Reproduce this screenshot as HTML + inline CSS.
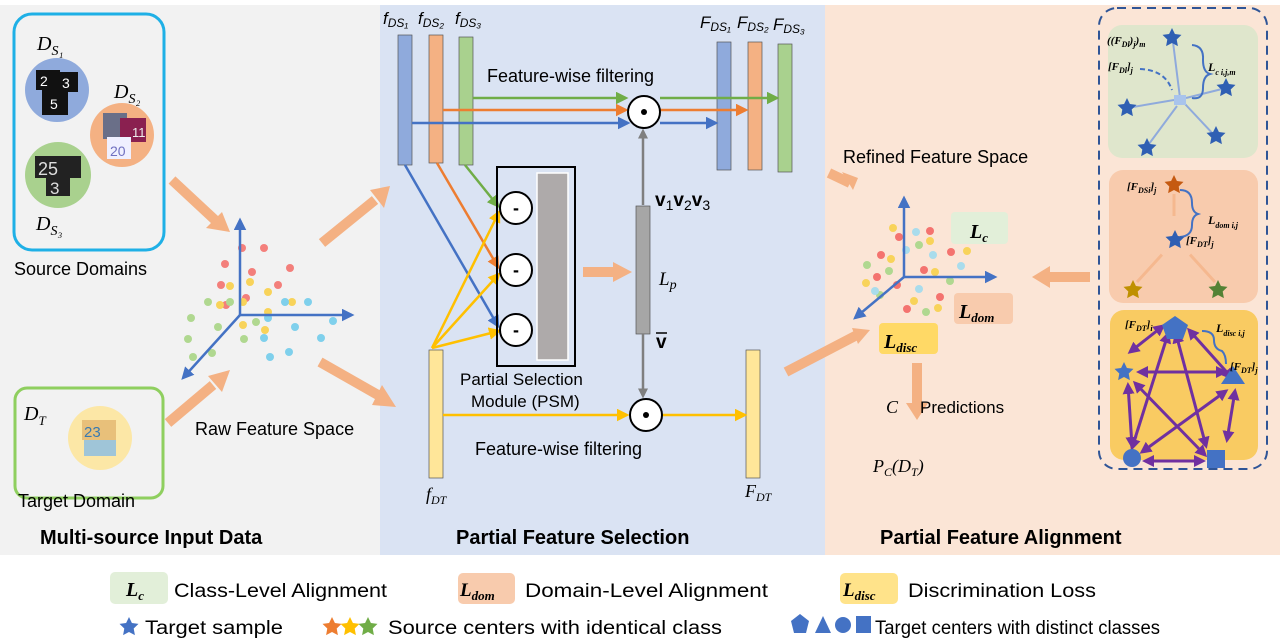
<!DOCTYPE html>
<html><head><meta charset="utf-8"><style>
html,body{margin:0;padding:0;background:#fff;}
svg{display:block;}
text{font-family:"Liberation Sans",sans-serif;}
.m{font-family:"Liberation Serif",serif;font-style:italic;}
.b{font-weight:bold;}
.n{font-family:"Liberation Sans Narrow","Liberation Sans",sans-serif;}
</style></head><body>
<svg width="1280" height="642" viewBox="0 0 1280 642" xmlns="http://www.w3.org/2000/svg">
<defs>
<marker id="ab" markerWidth="6" markerHeight="6" refX="5" refY="3" orient="auto" markerUnits="strokeWidth"><path d="M0,0L6,3L0,6z" fill="context-stroke"/></marker>
<marker id="abl" markerWidth="5" markerHeight="5" refX="4" refY="2.5" orient="auto"><path d="M0,0L5,2.5L0,5z" fill="#4472c4"/></marker>
<marker id="ag" markerWidth="5" markerHeight="5" refX="4" refY="2.5" orient="auto"><path d="M0,0L5,2.5L0,5z" fill="#70ad47"/></marker>
<marker id="ao" markerWidth="5" markerHeight="5" refX="4" refY="2.5" orient="auto"><path d="M0,0L5,2.5L0,5z" fill="#ed7d31"/></marker>
<marker id="ay" markerWidth="5" markerHeight="5" refX="4" refY="2.5" orient="auto"><path d="M0,0L5,2.5L0,5z" fill="#ffc000"/></marker>
<marker id="agr" markerWidth="4" markerHeight="4" refX="3" refY="2" orient="auto"><path d="M0,0L4,2L0,4z" fill="#7f7f7f"/></marker>
<marker id="ap" markerWidth="4" markerHeight="4" refX="3" refY="2" orient="auto"><path d="M0,0L4,2L0,4z" fill="#7030a0"/></marker>
<marker id="apr" markerWidth="4" markerHeight="4" refX="1" refY="2" orient="auto"><path d="M4,0L0,2L4,4z" fill="#7030a0"/></marker>
<marker id="alb" markerWidth="4" markerHeight="4" refX="3" refY="2" orient="auto"><path d="M0,0L4,2L0,4z" fill="#8faadc"/></marker>
<marker id="alo" markerWidth="4" markerHeight="4" refX="3" refY="2" orient="auto"><path d="M0,0L4,2L0,4z" fill="#f8cbad"/></marker>
<g id="star"><path d="M0,-10L2.9,-4L9.5,-3.1L4.7,1.5L5.9,8.1L0,5L-5.9,8.1L-4.7,1.5L-9.5,-3.1L-2.9,-4Z"/></g>
</defs>

<!-- panels -->
<rect x="0" y="5" width="380" height="550" fill="#f2f2f2"/>
<rect x="380" y="5" width="445" height="550" fill="#dae3f3"/>
<rect x="825" y="5" width="455" height="550" fill="#fbe5d6"/>

<!-- LEFT -->
<rect x="14" y="14" width="150" height="236" rx="18" fill="none" stroke="#1fb0e6" stroke-width="3"/>
<text x="37" y="50" class="m" font-size="20">D<tspan font-size="14" dy="5">S₁</tspan></text>
<text x="114" y="98" class="m" font-size="20">D<tspan font-size="14" dy="5">S₂</tspan></text>
<text x="36" y="230" class="m" font-size="20">D<tspan font-size="14" dy="5">S₃</tspan></text>
<circle cx="57" cy="90" r="32" fill="#8faadc"/>
<rect x="36" y="70" width="24" height="20" fill="#111"/><rect x="58" y="72" width="20" height="20" fill="#111"/><rect x="42" y="88" width="26" height="27" fill="#111"/>
<text x="40" y="86" fill="#fff" font-size="14">2</text><text x="62" y="88" fill="#fff" font-size="14">3</text><text x="50" y="109" fill="#fff" font-size="14">5</text>
<circle cx="122" cy="135" r="32" fill="#f4b183"/>
<rect x="103" y="113" width="24" height="26" fill="#6a6f88"/><rect x="120" y="118" width="26" height="24" fill="#8a2050"/><rect x="107" y="137" width="24" height="22" fill="#f0f0ff"/>
<text x="132" y="137" fill="#eee" font-size="13">11</text><text x="110" y="156" fill="#7070c0" font-size="14">20</text>
<circle cx="58" cy="175" r="33" fill="#a9d18e"/>
<rect x="35" y="156" width="46" height="22" fill="#222"/><rect x="46" y="176" width="24" height="20" fill="#222"/>
<text x="38" y="175" fill="#ddd" font-size="18">25</text><text x="50" y="194" fill="#ddd" font-size="17">3</text>
<text x="14" y="275" font-size="18">Source Domains</text>

<rect x="15" y="388" width="148" height="110" rx="12" fill="none" stroke="#8fcf5f" stroke-width="3"/>
<text x="24" y="420" class="m" font-size="20">D<tspan font-size="13" dy="5">T</tspan></text>
<circle cx="100" cy="438" r="32" fill="#fce7a6"/>
<rect x="82" y="420" width="34" height="20" fill="#e8c07a"/><rect x="84" y="440" width="32" height="16" fill="#9fc5d8"/>
<text x="84" y="437" fill="#3a7ab0" font-size="15">23</text>
<text x="18" y="507" font-size="18">Target Domain</text>
<text x="40" y="544" font-size="20" class="b">Multi-source Input Data</text>

<!-- raw feature space -->
<g fill="#f4736f" opacity="0.9"><circle cx="242" cy="248" r="4"/><circle cx="264" cy="248" r="4"/><circle cx="225" cy="264" r="4"/><circle cx="252" cy="272" r="4"/><circle cx="290" cy="268" r="4"/><circle cx="221" cy="285" r="4"/><circle cx="278" cy="285" r="4"/><circle cx="246" cy="298" r="4"/><circle cx="226" cy="305" r="4"/></g>
<g fill="#f8d35a"><circle cx="230" cy="286" r="4"/><circle cx="250" cy="282" r="4"/><circle cx="268" cy="292" r="4"/><circle cx="220" cy="305" r="4"/><circle cx="243" cy="302" r="4"/><circle cx="292" cy="302" r="4"/><circle cx="268" cy="312" r="4"/><circle cx="243" cy="325" r="4"/><circle cx="265" cy="330" r="4"/></g>
<g fill="#b0d890"><circle cx="208" cy="302" r="4"/><circle cx="230" cy="302" r="4"/><circle cx="191" cy="318" r="4"/><circle cx="218" cy="327" r="4"/><circle cx="256" cy="322" r="4"/><circle cx="188" cy="339" r="4"/><circle cx="244" cy="339" r="4"/><circle cx="193" cy="357" r="4"/><circle cx="212" cy="353" r="4"/></g>
<g fill="#7fd0ec"><circle cx="285" cy="302" r="4"/><circle cx="308" cy="302" r="4"/><circle cx="268" cy="318" r="4"/><circle cx="295" cy="327" r="4"/><circle cx="333" cy="321" r="4"/><circle cx="264" cy="338" r="4"/><circle cx="321" cy="338" r="4"/><circle cx="270" cy="357" r="4"/><circle cx="289" cy="352" r="4"/></g>
<g stroke="#4472c4" stroke-width="2.5" fill="none"><line x1="240" y1="315" x2="240" y2="220" marker-end="url(#abl)"/><line x1="240" y1="315" x2="352" y2="315" marker-end="url(#abl)"/><line x1="240" y1="315" x2="183" y2="378" marker-end="url(#abl)"/></g>
<text x="195" y="435" font-size="18">Raw Feature Space</text>

<!-- big orange arrows -->
<g stroke="#f4b183" stroke-width="10" fill="none">
<line x1="172" y1="180" x2="215" y2="220"/><line x1="322" y1="243" x2="375" y2="200"/>
<line x1="168" y1="423" x2="213" y2="385"/><line x1="320" y1="362" x2="378" y2="395"/>
<line x1="583" y1="272" x2="615" y2="272"/>
<line x1="786" y1="372" x2="857" y2="335"/><line x1="829" y1="173" x2="850" y2="183"/>
<line x1="1090" y1="277" x2="1048" y2="277"/><line x1="917" y1="363" x2="917" y2="405"/>
</g>
<g fill="#f4b183">
<path d="M230,232L206,228L222,212Z"/><path d="M390,186L370,190L384,208Z"/>
<path d="M230,370L208,376L222,392Z"/><path d="M396,407L372,405L382,385Z"/>
<path d="M632,272L613,262L613,282Z"/>
<path d="M870,330L852,328L858,344Z"/><path d="M853,190L842,172L858,178Z"/>
<path d="M1032,277L1050,266L1050,288Z"/><path d="M917,420L906,403L928,403Z"/>
</g>

<!-- MIDDLE -->
<g font-size="17" class="m">
<text x="383" y="24">f<tspan font-size="12" dy="3">DS₁</tspan></text>
<text x="418" y="24">f<tspan font-size="12" dy="3">DS₂</tspan></text>
<text x="455" y="24">f<tspan font-size="12" dy="3">DS₃</tspan></text>
<text x="700" y="28">F<tspan font-size="12" dy="3">DS₁</tspan></text>
<text x="737" y="28">F<tspan font-size="12" dy="3">DS₂</tspan></text>
<text x="773" y="30">F<tspan font-size="12" dy="3">DS₃</tspan></text>
</g>
<g stroke="#555" stroke-width="0.7">
<rect x="398" y="35" width="14" height="130" fill="#8faadc"/>
<rect x="429" y="35" width="14" height="128" fill="#f4b183"/>
<rect x="459" y="37" width="14" height="128" fill="#a9d18e"/>
<rect x="717" y="42" width="14" height="128" fill="#8faadc"/>
<rect x="748" y="42" width="14" height="128" fill="#f4b183"/>
<rect x="778" y="44" width="14" height="128" fill="#a9d18e"/>
<rect x="429" y="350" width="14" height="128" fill="#ffe699"/>
<rect x="746" y="350" width="14" height="128" fill="#ffe699"/>
<rect x="636" y="206" width="14" height="128" fill="#a6a6a6"/>
</g>
<text x="487" y="82" font-size="18">Feature-wise filtering</text>
<g stroke-width="2.5" fill="none">
<line x1="473" y1="98" x2="626" y2="98" stroke="#70ad47" marker-end="url(#ag)"/>
<line x1="660" y1="98" x2="777" y2="98" stroke="#70ad47" marker-end="url(#ag)"/>
<line x1="443" y1="110" x2="626" y2="110" stroke="#ed7d31" marker-end="url(#ao)"/>
<line x1="660" y1="110" x2="746" y2="110" stroke="#ed7d31" marker-end="url(#ao)"/>
<line x1="412" y1="123" x2="628" y2="123" stroke="#4472c4" marker-end="url(#abl)"/>
<line x1="660" y1="123" x2="716" y2="123" stroke="#4472c4" marker-end="url(#abl)"/>
<line x1="465" y1="165" x2="498" y2="206" stroke="#70ad47" marker-end="url(#ag)"/>
<line x1="437" y1="163" x2="498" y2="267" stroke="#ed7d31" marker-end="url(#ao)"/>
<line x1="405" y1="165" x2="498" y2="326" stroke="#4472c4" marker-end="url(#abl)"/>
<line x1="432" y1="348" x2="499" y2="212" stroke="#ffc000" marker-end="url(#ay)"/>
<line x1="432" y1="348" x2="499" y2="274" stroke="#ffc000" marker-end="url(#ay)"/>
<line x1="432" y1="348" x2="499" y2="331" stroke="#ffc000" marker-end="url(#ay)"/>
<line x1="443" y1="415" x2="627" y2="415" stroke="#ffc000" marker-end="url(#ay)"/>
<line x1="662" y1="415" x2="745" y2="415" stroke="#ffc000" marker-end="url(#ay)"/>
<line x1="643" y1="205" x2="643" y2="131" stroke="#7f7f7f" marker-end="url(#agr)"/>
<line x1="643" y1="334" x2="643" y2="396" stroke="#7f7f7f" marker-end="url(#agr)"/>
</g>
<rect x="497" y="167" width="78" height="199" fill="none" stroke="#000" stroke-width="2"/>
<rect x="537" y="173" width="31" height="187" fill="#aeaaaa" stroke="#fff" stroke-width="1.5"/>
<g fill="#fff" stroke="#000" stroke-width="2"><circle cx="516" cy="208" r="16"/><circle cx="516" cy="270" r="16"/><circle cx="516" cy="330" r="16"/><circle cx="644" cy="112" r="16"/><circle cx="646" cy="415" r="16"/></g>
<g font-size="18" class="b" text-anchor="middle"><text x="516" y="214">-</text><text x="516" y="276">-</text><text x="516" y="336">-</text></g>
<circle cx="644" cy="112" r="3" fill="#000"/><circle cx="646" cy="415" r="3" fill="#000"/>
<text x="655" y="206" font-size="19" font-family="Liberation Serif" font-weight="bold">v<tspan font-size="14" dy="4" font-weight="normal">1</tspan><tspan dy="-4">v</tspan><tspan font-size="14" dy="4" font-weight="normal">2</tspan><tspan dy="-4">v</tspan><tspan font-size="14" dy="4" font-weight="normal">3</tspan></text>
<text x="659" y="285" class="m" font-size="19">L<tspan font-size="14" dy="4">p</tspan></text>
<text x="656" y="348" font-size="19" font-family="Liberation Serif" font-weight="bold">v</text>
<line x1="656" y1="333" x2="667" y2="333" stroke="#000" stroke-width="1.5"/>
<text x="460" y="385" font-size="17">Partial Selection</text>
<text x="471" y="407" font-size="17">Module (PSM)</text>
<text x="475" y="455" font-size="18">Feature-wise filtering</text>
<text x="426" y="500" class="m" font-size="18">f<tspan font-size="12" dy="4">DT</tspan></text>
<text x="745" y="497" class="m" font-size="18">F<tspan font-size="12" dy="4">DT</tspan></text>
<text x="456" y="544" font-size="20" class="b">Partial Feature Selection</text>

<!-- RIGHT -->
<text x="843" y="163" font-size="18">Refined Feature Space</text>
<rect x="951" y="212" width="57" height="32" rx="4" fill="#e2efd9"/>
<rect x="954" y="293" width="59" height="31" rx="4" fill="#f8cbad"/>
<rect x="879" y="323" width="59" height="31" rx="4" fill="#ffd966"/>
<text x="970" y="238" class="m b" font-size="20">L<tspan font-size="13" dy="4">c</tspan></text>
<text x="959" y="318" class="m b" font-size="20">L<tspan font-size="13" dy="4">dom</tspan></text>
<text x="884" y="348" class="m b" font-size="20">L<tspan font-size="13" dy="4">disc</tspan></text>
<g fill="#f4736f"><circle cx="899" cy="237" r="4"/><circle cx="930" cy="231" r="4"/><circle cx="881" cy="255" r="4"/><circle cx="951" cy="252" r="4"/><circle cx="877" cy="277" r="4"/><circle cx="924" cy="270" r="4"/><circle cx="897" cy="285" r="4"/><circle cx="940" cy="297" r="4"/><circle cx="907" cy="309" r="4"/></g>
<g fill="#f8d35a"><circle cx="893" cy="228" r="4"/><circle cx="930" cy="241" r="4"/><circle cx="891" cy="259" r="4"/><circle cx="967" cy="251" r="4"/><circle cx="866" cy="283" r="4"/><circle cx="935" cy="272" r="4"/><circle cx="914" cy="301" r="4"/><circle cx="938" cy="308" r="4"/></g>
<g fill="#b0d890"><circle cx="867" cy="265" r="4"/><circle cx="919" cy="245" r="4"/><circle cx="889" cy="271" r="4"/><circle cx="950" cy="281" r="4"/><circle cx="880" cy="295" r="4"/><circle cx="926" cy="312" r="4"/></g>
<g fill="#a9dcec"><circle cx="916" cy="232" r="4"/><circle cx="906" cy="250" r="4"/><circle cx="933" cy="255" r="4"/><circle cx="961" cy="266" r="4"/><circle cx="875" cy="291" r="4"/><circle cx="919" cy="289" r="4"/></g>
<g stroke="#4472c4" stroke-width="2.5" fill="none"><line x1="904" y1="277" x2="904" y2="198" marker-end="url(#abl)"/><line x1="904" y1="277" x2="995" y2="277" marker-end="url(#abl)"/><line x1="904" y1="277" x2="855" y2="318" marker-end="url(#abl)"/></g>
<text x="886" y="413" class="m" font-size="18">C</text>
<text x="920" y="413" font-size="17">Predictions</text>
<text x="873" y="472" class="m" font-size="18">P<tspan font-size="12" dy="4">C</tspan><tspan dy="-4">(D</tspan><tspan font-size="12" dy="4">T</tspan><tspan dy="-4">)</tspan></text>
<text x="880" y="544" font-size="20" class="b">Partial Feature Alignment</text>

<rect x="1099" y="8" width="168" height="461" rx="18" fill="none" stroke="#2f5597" stroke-width="2" stroke-dasharray="9,6"/>
<rect x="1108" y="25" width="150" height="133" rx="14" fill="#dfe6cc"/>
<rect x="1109" y="170" width="149" height="133" rx="14" fill="#f8cbad"/>
<rect x="1110" y="310" width="148" height="150" rx="14" fill="#f9cb62"/>
<!-- green panel -->
<g stroke="#8faadc" stroke-width="2"><line x1="1173" y1="42" x2="1180" y2="98"/><line x1="1226" y1="88" x2="1186" y2="98"/><line x1="1127" y1="108" x2="1174" y2="100"/><line x1="1215" y1="136" x2="1185" y2="104"/><line x1="1146" y1="148" x2="1177" y2="106"/></g>
<rect x="1174" y="95" width="12" height="10" fill="#a9c4ec"/>
<path d="M1140,69 Q1165,70 1172,90" stroke="#4472c4" stroke-width="2" fill="none" stroke-dasharray="5,3"/>
<path d="M1192,45 Q1204,46 1203,60 Q1203,72 1210,74 Q1203,76 1203,88 Q1203,100 1192,98" stroke="#4472c4" stroke-width="2" fill="none"/>
<g fill="#2f5fb3"><use href="#star" x="1172" y="38"/><use href="#star" x="1226" y="88"/><use href="#star" x="1127" y="108"/><use href="#star" x="1216" y="136"/><use href="#star" x="1147" y="148"/></g>
<text x="1107" y="44" font-size="11" class="m b">((F<tspan font-size="8" dy="3">Dl</tspan><tspan dy="-3">)</tspan><tspan font-size="8" dy="3">j</tspan><tspan dy="-3">)</tspan><tspan font-size="8" dy="3">m</tspan></text>
<text x="1108" y="70" font-size="11" class="m b">[F<tspan font-size="8" dy="3">Dl</tspan><tspan dy="-3">]</tspan><tspan font-size="8" dy="3">j</tspan></text>
<text x="1208" y="71" font-size="12" class="m b">L<tspan font-size="8" dy="4">c i,j,m</tspan></text>
<!-- orange panel -->
<g stroke="#f4b183" stroke-width="3" opacity="0.7"><line x1="1174" y1="194" x2="1174" y2="225" marker-end="url(#alo)"/><line x1="1137" y1="282" x2="1168" y2="248" marker-end="url(#alo)"/><line x1="1215" y1="282" x2="1184" y2="248" marker-end="url(#alo)"/></g>
<path d="M1180,190 Q1192,190 1192,203 Q1192,212 1198,214 Q1192,216 1192,225 Q1192,236 1180,237" stroke="#4472c4" stroke-width="2" fill="none"/>
<use href="#star" x="1174" y="185" fill="#c55a11" transform="translate(0,0)"/>
<use href="#star" x="1175" y="240" fill="#2f5fb3"/>
<use href="#star" x="1133" y="290" fill="#bf9000"/>
<use href="#star" x="1218" y="290" fill="#548235"/>
<text x="1127" y="190" font-size="11" class="m b">[F<tspan font-size="8" dy="3">DSi</tspan><tspan dy="-3">]</tspan><tspan font-size="8" dy="3">j</tspan></text>
<text x="1186" y="244" font-size="11" class="m b">[F<tspan font-size="8" dy="3">DT</tspan><tspan dy="-3">]</tspan><tspan font-size="8" dy="3">j</tspan></text>
<text x="1208" y="224" font-size="12" class="m b">L<tspan font-size="8" dy="4">dom i,j</tspan></text>
<!-- yellow panel -->
<g stroke="#7030a0" stroke-width="3" fill="none" marker-end="url(#ap)" marker-start="url(#apr)">
<line x1="1163" y1="326" x2="1130" y2="352"/><line x1="1189" y1="330" x2="1232" y2="378"/>
<line x1="1168" y1="334" x2="1132" y2="448"/><line x1="1176" y1="334" x2="1206" y2="446"/>
<line x1="1139" y1="372" x2="1225" y2="372"/><line x1="1135" y1="383" x2="1205" y2="455"/>
<line x1="1226" y1="391" x2="1142" y2="452"/><line x1="1128" y1="385" x2="1132" y2="446"/>
<line x1="1235" y1="391" x2="1227" y2="440"/><line x1="1145" y1="461" x2="1203" y2="461"/>
</g>
<g fill="#4472c4">
<path d="M1175,316L1188,325L1183,339L1167,339L1162,325Z"/>
<use href="#star" x="1124" y="372" transform="scale(1)"/>
<path d="M1233,366L1245,384L1221,384Z"/>
<circle cx="1132" cy="458" r="9"/>
<rect x="1207" y="450" width="18" height="18"/>
</g>
<path d="M1202,331 Q1214,331 1214,340 Q1214,349 1222,351 Q1226,355 1226,364" stroke="#4472c4" stroke-width="2" fill="none"/>
<text x="1125" y="328" font-size="11" class="m b">[F<tspan font-size="8" dy="3">DT</tspan><tspan dy="-3">]</tspan><tspan font-size="8" dy="3">i</tspan></text>
<text x="1230" y="370" font-size="11" class="m b">[F<tspan font-size="8" dy="3">DT</tspan><tspan dy="-3">]</tspan><tspan font-size="8" dy="3">j</tspan></text>
<text x="1216" y="332" font-size="12" class="m b">L<tspan font-size="8" dy="4">disc i,j</tspan></text>

<!-- LEGEND -->
<rect x="110" y="572" width="58" height="32" rx="5" fill="#e2efd9"/>
<rect x="458" y="573" width="57" height="31" rx="5" fill="#f8cbad"/>
<rect x="840" y="573" width="58" height="31" rx="5" fill="#ffe38a"/>
<text x="126" y="596" class="m b" font-size="20">L<tspan font-size="13" dy="4">c</tspan></text>
<text x="460" y="596" class="m b" font-size="19">L<tspan font-size="13" dy="4">dom</tspan></text>
<text x="843" y="596" class="m b" font-size="19">L<tspan font-size="13" dy="4">disc</tspan></text>
<g font-size="19" class="n">
<text x="174" y="597" textLength="213" lengthAdjust="spacingAndGlyphs">Class-Level Alignment</text>
<text x="525" y="597" textLength="243" lengthAdjust="spacingAndGlyphs">Domain-Level Alignment</text>
<text x="908" y="597" textLength="188" lengthAdjust="spacingAndGlyphs">Discrimination Loss</text>
<text x="145" y="634" textLength="138" lengthAdjust="spacingAndGlyphs">Target sample</text>
<text x="388" y="634" textLength="334" lengthAdjust="spacingAndGlyphs">Source centers with identical class</text>
<text x="875" y="634" textLength="285" lengthAdjust="spacingAndGlyphs">Target centers with distinct classes</text>
</g>
<use href="#star" x="129" y="627" fill="#4472c4"/>
<use href="#star" x="332" y="627" fill="#ed7d31"/>
<use href="#star" x="350" y="627" fill="#ffc000"/>
<use href="#star" x="368" y="627" fill="#70ad47"/>
<g fill="#4472c4">
<path d="M800,614L809,621L806,633L794,633L791,621Z"/>
<path d="M823,616L831,633L815,633Z"/>
<circle cx="843" cy="625" r="8"/>
<rect x="856" y="616" width="15" height="17"/>
</g>
</svg>
</body></html>
